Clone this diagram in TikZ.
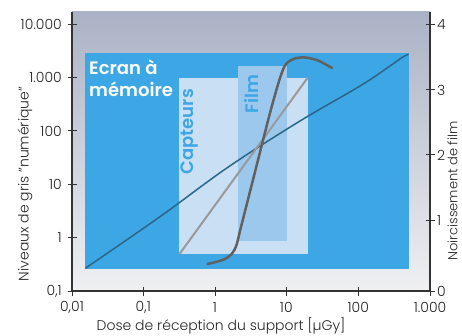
\documentclass[tikz,border=0pt]{standalone}
\usepackage{fontspec}
\setmainfont{Poppins}[UprightFont=* Light, BoldFont=* SemiBold]
\definecolor{bgtop}{HTML}{AAB2C5}
\definecolor{bgbot}{HTML}{F0F0F2}
\definecolor{ecran}{HTML}{3DA6E4}
\definecolor{capt}{HTML}{C9DFF4}
\definecolor{film}{HTML}{9DC8EE}
\definecolor{dblue}{HTML}{2B6689}
\definecolor{lgray}{HTML}{999999}
\definecolor{dgray}{HTML}{616161}
\definecolor{axis}{HTML}{333333}
\tikzset{
  ticklab/.style={font=\fontsize{14}{16}\selectfont, text=black!85, inner sep=0pt},
  axtitle/.style={font=\fontsize{14}{16}\selectfont, text=black!85, inner sep=0pt},
  boxlab/.style={font=\bfseries\fontsize{18}{22}\selectfont, inner sep=0pt},
  axline/.style={draw=axis, line width=1.2pt},
  tickline/.style={draw=axis, line width=1pt}
}
\begin{document}
\begin{tikzpicture}[x=1pt,y=-1pt]
\useasboundingbox (0,0) rectangle (462,336);
% background gradient
\shade[top color=bgtop, bottom color=bgbot] (72,12) rectangle (430,291);
% regions
\fill[ecran] (85,53.5) rectangle (409,269);
\fill[capt] (179,77.7) rectangle (308,254.3);
\fill[film] (237.7,66) rectangle (287,240.7);
% labels in regions
\node[boxlab, text=white, anchor=base west] (ec1) at (89,75) {Ecran à};
\node[boxlab, text=white, anchor=base west] (ec2) at (89,97) {mémoire};
\node[boxlab, text=ecran, rotate=90] (cap) at (189.5,131.7) {Capteurs};
\node[boxlab, text=ecran, rotate=90] (flm) at (251.5,94) {Film};
% curves
\draw[dblue, line width=1.5pt] plot[smooth, tension=0.6] coordinates {(85.3,268.3) (160,216.7) (228.3,167) (300,121) (360,86) (390,66) (402,57.5) (408.5,54.3)};
\draw[lgray, line width=2pt] (179.3,254.3) -- (307.7,77.7);
\draw[dgray, line width=2.5pt, line cap=round] plot[smooth, tension=0.5] coordinates {(207.5,264) (224,259.5) (232,253.5) (236.5,245) (241,227) (256,168) (270,113) (280,78) (286,64) (295,58.5) (305,57.5) (318,60.5) (332,68)};
% axes
\draw[axline] (72,12) -- (72,291) -- (430,291);
\draw[axline] (430,12) -- (430,291);
% left ticks
\foreach \y/\t in {291/{0,1},237.7/1,184.3/10,131/100,77.7/{1.000},24.5/{10.000}}{
  \draw[tickline] (67.5,\y) -- (76.5,\y);
  \node[ticklab, anchor=east] at (62,\y) {\t};
}
% right ticks
\foreach \y/\t in {291/0,220.7/1,155/2,90/3,25/4}{
  \draw[tickline] (425.5,\y) -- (434.5,\y);
  \node[ticklab, anchor=west] at (437,\y) {\t};
}
% bottom ticks
\foreach \x/\t in {72/{0,01},143.3/{0,1},215/1,286.3/10,358.3/100,430/{1.000}}{
  \draw[tickline] (\x,286.5) -- (\x,295.5);
  \node[ticklab, anchor=center] at (\x,307) {\t};
}
% axis titles
\node[axtitle] (xt) at (221,326) {Dose de réception du support [µGy]};
\node[axtitle, rotate=90] (yl) at (25,184) {Niveaux de gris "numérique"};
\node[axtitle, rotate=90, font=\fontsize{13}{15}\selectfont] (yr) at (452.5,191) {Noircissement de film};
\end{tikzpicture}
\end{document}
